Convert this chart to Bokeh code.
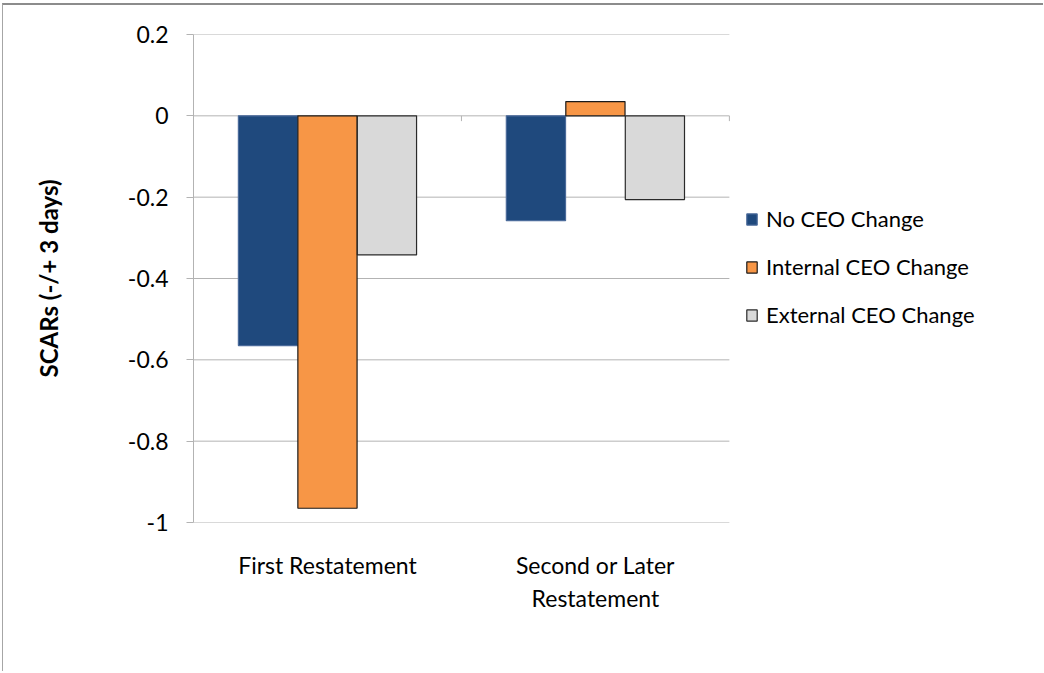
from bokeh.plotting import figure
from bokeh.models import (Range1d, FixedTicker, LinearAxis, Legend, LegendItem,
                          ColumnDataSource)
from bokeh.embed import file_html
from bokeh.resources import INLINE

# Data
categories = ["First Restatement", "Second or Later\nRestatement"]
series_names = ["No CEO Change", "Internal CEO Change", "External CEO Change"]
no_ceo_change = [-0.565, -0.258]
internal_ceo_change = [-0.965, 0.035]
external_ceo_change = [-0.342, -0.206]
y_ticks = [-1.0, -0.8, -0.6, -0.4, -0.2, 0.0, 0.2]
y_tick_labels = ["-1", "-0.8", "-0.6", "-0.4", "-0.2", "0", "0.2"]

colors = ["#1f497d", "#f79646", "#d9d9d9"]
outlines = ["#4a6a9a", "#1a1a1a", "#2a2a2a"]
FONT = "Lato"
GRID = "#b3b3b3"

# plotting area spans the bars (x 0..2) plus room on the right for the legend
n_cat = len(categories)
x_end = n_cat * 848 / 534

p = figure(width=1041, height=668, output_backend="svg", toolbar_location=None,
           x_range=Range1d(0, x_end), y_range=Range1d(-1, 0.2),
           min_border_left=190, min_border_right=0,
           min_border_top=29, min_border_bottom=151,
           x_axis_location=None, y_axis_location=None)
p.outline_line_color = None
p.background_fill_color = "white"
p.border_fill_color = "white"
p.styles = {"border-top": "2px solid #8c8c8c", "border-left": "1px solid #a6a6a6",
            "margin-top": "3px", "margin-left": "2px"}

# y axis
yaxis = LinearAxis(ticker=FixedTicker(ticks=y_ticks),
                   major_label_overrides={t: s for t, s in zip(y_ticks, y_tick_labels)})
yaxis.axis_line_color = GRID
yaxis.major_tick_line_color = GRID
yaxis.major_tick_out = 7
yaxis.major_tick_in = 0
yaxis.minor_tick_line_color = None
yaxis.major_label_text_font = FONT
yaxis.major_label_text_font_size = "23px"
yaxis.major_label_text_color = "#000000"
yaxis.major_label_standoff = 18
yaxis.axis_label = "SCARs (-/+ 3 days)"
yaxis.axis_label_text_font = FONT
yaxis.axis_label_text_font_style = "bold"
yaxis.axis_label_text_font_size = "24px"
yaxis.axis_label_text_color = "#000000"
yaxis.axis_label_standoff = 62
p.add_layout(yaxis, "left")

# x axis: category labels only
cat_pos = [0.5 + i for i in range(n_cat)]
xaxis = LinearAxis(ticker=FixedTicker(ticks=cat_pos),
                   major_label_overrides={c: s for c, s in zip(cat_pos, categories)})
xaxis.axis_line_color = None
xaxis.major_tick_line_color = None
xaxis.minor_tick_line_color = None
xaxis.major_label_text_font = FONT
xaxis.major_label_text_font_size = "23px"
xaxis.major_label_text_color = "#000000"
xaxis.major_label_standoff = 22
xaxis.major_label_text_line_height = 1.18
p.add_layout(xaxis, "below")

p.xgrid.grid_line_color = None
p.ygrid.grid_line_color = None

# horizontal gridlines across the bar area only
p.segment(x0=[0] * len(y_ticks), y0=y_ticks, x1=[n_cat] * len(y_ticks), y1=y_ticks,
          line_color=GRID, line_width=1)

# category divider ticks on the zero line
div_x = [i + 1 for i in range(n_cat)]
p.segment(x0=div_x, y0=[0] * n_cat, x1=div_x, y1=[-0.013] * n_cat,
          line_color=GRID, line_width=1)

# bars
bar_w = 0.221
offsets = [-0.222, 0.0, 0.222]
series = [no_ceo_change, internal_ceo_change, external_ceo_change]
renderers = []
for vals, off, fc, lc in zip(series, offsets, colors, outlines):
    src = ColumnDataSource(dict(x=[c + off for c in cat_pos], top=[max(v, 0) for v in vals],
                                bottom=[min(v, 0) for v in vals]))
    r = p.vbar(x="x", top="top", bottom="bottom", width=bar_w, source=src,
               fill_color=fc, line_color=lc, line_width=1.2)
    renderers.append(r)

legend = Legend(items=[LegendItem(label=n, renderers=[r]) for n, r in zip(series_names, renderers)],
                location=(552, 194), orientation="vertical")
legend.background_fill_alpha = 0
legend.border_line_color = None
legend.label_text_font = FONT
legend.label_text_font_size = "22px"
legend.label_text_color = "#000000"
legend.glyph_width = 13
legend.glyph_height = 14
legend.label_height = 20
legend.label_standoff = 8
legend.spacing = 21
legend.padding = 0
legend.margin = 0
p.add_layout(legend, "center")

open("out.html", "w").write(file_html(p, INLINE))
